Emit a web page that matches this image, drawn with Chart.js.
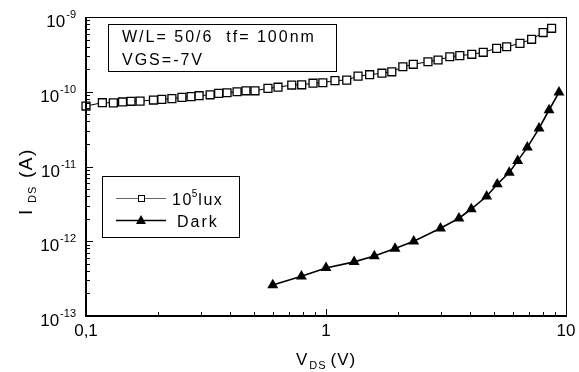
<!DOCTYPE html>
<html lang="en">
<head>
  <meta charset="UTF-8" />
  <title>IDS - VDS</title>
  <script src="https://cdn.jsdelivr.net/npm/chart.js"></script>
  <style>
    html, body { margin: 0; padding: 0; background: #fff; }
    canvas { display: block; }
  </style>
</head>
<body>
  <canvas id="ivChart" width="579" height="372"></canvas>

  <script>
    // 10^5 lux curve
    const luxVds = [0.100, 0.117, 0.130, 0.142, 0.154, 0.168, 0.191, 0.207, 0.228, 0.251, 0.274,
                    0.296, 0.329, 0.357, 0.387, 0.426, 0.464, 0.506, 0.573, 0.631, 0.720, 0.792,
                    0.883, 0.970, 1.09, 1.22, 1.36, 1.52, 1.71, 1.88, 2.09, 2.31, 2.66, 2.93,
                    3.28, 3.61, 4.05, 4.52, 5.14, 5.66, 6.43, 7.19, 8.03, 8.71];
    const luxIds = [6.44e-11, 7.14e-11, 7.1e-11, 7.3e-11, 7.45e-11, 7.5e-11, 7.75e-11, 7.9e-11, 8.1e-11, 8.4e-11, 8.6e-11,
                    8.85e-11, 9.1e-11, 9.5e-11, 9.7e-11, 1.0e-10, 1.03e-10, 1.03e-10, 1.11e-10, 1.15e-10, 1.23e-10, 1.24e-10,
                    1.30e-10, 1.32e-10, 1.41e-10, 1.43e-10, 1.62e-10, 1.69e-10, 1.77e-10, 1.85e-10, 2.16e-10, 2.33e-10, 2.52e-10, 2.66e-10,
                    2.94e-10, 3.04e-10, 3.17e-10, 3.37e-10, 3.81e-10, 4.0e-10, 4.44e-10, 5.03e-10, 6.2e-10, 7.06e-10];

    // dark curve
    const darkVds = [0.60, 0.79, 1.00, 1.31, 1.59, 1.94, 2.32, 3.00, 3.58, 4.03, 4.67, 5.17, 5.80, 6.29, 6.90, 7.72, 8.50, 9.35];
    const darkIds = [2.6e-13, 3.4e-13, 4.4e-13, 5.3e-13, 6.35e-13, 8.0e-13, 1.0e-12, 1.49e-12, 2.03e-12, 2.7e-12,
                     4.0e-12, 5.8e-12, 8.3e-12, 1.19e-11, 1.8e-11, 3.24e-11, 5.7e-11, 9.8e-11];

    const xTickValues = [0.1, 1, 10];
    const xTickLabels = ['0,1', '1', '10'];
    const yTickExponents = [-13, -12, -11, -10, -9];
    const infoLines = ['W/L= 50/6  tf= 100nm', 'VGS=-7V'];

    const FONT = '"Liberation Sans", Arial, sans-serif';

    function text(ctx, str, x, y, size, spacing) {
      ctx.font = size + 'px ' + FONT;
      ctx.letterSpacing = (spacing || 0) + 'px';
      ctx.fillText(str, x, y);
      return ctx.measureText(str).width;
    }

    function measure(ctx, str, size, spacing) {
      ctx.font = size + 'px ' + FONT;
      ctx.letterSpacing = (spacing || 0) + 'px';
      return ctx.measureText(str).width;
    }

    // draws "10" with a raised exponent, right aligned on xRight
    function pow10(ctx, exp, xRight, baseline) {
      const wb = measure(ctx, '10', 17);
      const we = measure(ctx, String(exp), 11);
      const x0 = xRight - (wb + 1 + we);
      text(ctx, '10', x0, baseline, 17);
      text(ctx, String(exp), x0 + wb + 1, baseline - 8.5, 11);
    }

    const framePlugin = {
      id: 'frame',
      afterDraw(chart) {
        const { ctx, chartArea: a, scales: { x, y } } = chart;
        ctx.save();
        ctx.strokeStyle = '#000';
        ctx.fillStyle = '#000';
        ctx.textBaseline = 'alphabetic';
        ctx.textAlign = 'left';

        // plot box
        ctx.lineWidth = 1;
        ctx.strokeRect(a.left + 0.5, a.top + 0.5, a.right - a.left, a.bottom - a.top);
        ctx.lineWidth = 2;
        ctx.beginPath();
        ctx.moveTo(a.left, a.top);
        ctx.lineTo(a.left, a.bottom);
        ctx.lineTo(a.right + 1, a.bottom);
        ctx.stroke();

        // inward ticks
        ctx.lineWidth = 1;
        ctx.beginPath();
        for (let e = -1; e <= 1; e++) {
          for (let m = 1; m <= 9; m++) {
            const v = m * Math.pow(10, e);
            if (v > 10.0001) break;
            const px = Math.round(x.getPixelForValue(v)) + 0.5;
            const len = m === 1 ? 7 : 4;
            ctx.moveTo(px, a.bottom);
            ctx.lineTo(px, a.bottom - len);
          }
        }
        for (let e = -13; e <= -9; e++) {
          for (let m = 1; m <= 9; m++) {
            const v = m * Math.pow(10, e);
            if (e === -9 && m > 1) break;
            const py = Math.round(y.getPixelForValue(v)) + 0.5;
            const len = m === 1 ? 7 : 4;
            ctx.moveTo(a.left, py);
            ctx.lineTo(a.left + len, py);
          }
        }
        ctx.stroke();

        // tick labels
        yTickExponents.forEach(e => {
          pow10(ctx, e, 76, Math.round(y.getPixelForValue(Math.pow(10, e))) + 9.5);
        });
        ctx.textAlign = 'center';
        xTickValues.forEach((v, i) => {
          text(ctx, xTickLabels[i], x.getPixelForValue(v), a.bottom + 20, 17);
        });
        ctx.textAlign = 'left';

        // x title
        const cx = (a.left + a.right) / 2;
        let tx = cx - 30;
        tx += text(ctx, 'V', tx, 365, 17) + 2;
        tx += text(ctx, 'DS', tx, 369, 11, 1) + 4;
        text(ctx, '(V)', tx, 365, 17, 1);

        // y title (rotated)
        ctx.save();
        ctx.translate(32, 216);
        ctx.rotate(-Math.PI / 2);
        text(ctx, 'I', 1, 0, 19);
        text(ctx, 'DS', 13, 4, 11, 1);
        text(ctx, '(A)', 38, 0, 19, 1.5);
        ctx.restore();

        // info box
        ctx.lineWidth = 1;
        ctx.strokeRect(108.5, 24.5, 228, 47);
        text(ctx, infoLines[0], 122, 42, 16, 2);
        text(ctx, infoLines[1], 122, 65, 16, 2);

        // legend box
        ctx.fillStyle = '#fff';
        ctx.fillRect(102, 176, 137, 61);
        ctx.strokeRect(102.5, 176.5, 137, 61);
        ctx.fillStyle = '#000';

        // row 1: open square
        ctx.strokeStyle = '#666';
        ctx.beginPath();
        ctx.moveTo(116, 198.5);
        ctx.lineTo(166, 198.5);
        ctx.stroke();
        ctx.strokeStyle = '#000';
        ctx.fillStyle = '#fff';
        ctx.fillRect(138, 195.5, 6, 6);
        ctx.strokeRect(138.5, 195.5, 6, 6);
        ctx.fillStyle = '#000';
        let lx = 172;
        lx += text(ctx, '10', lx, 205, 16, 1.5);
        lx += text(ctx, '5', lx - 1, 197, 10);
        text(ctx, 'lux', lx, 205, 16, 1.5);

        // row 2: filled triangle
        ctx.lineWidth = 1.5;
        ctx.beginPath();
        ctx.moveTo(116, 220.5);
        ctx.lineTo(166, 220.5);
        ctx.stroke();
        ctx.beginPath();
        ctx.moveTo(141, 215);
        ctx.lineTo(146, 224);
        ctx.lineTo(136, 224);
        ctx.closePath();
        ctx.fill();
        text(ctx, 'Dark', 177, 227, 16, 2);

        ctx.restore();
      }
    };

    new Chart(document.getElementById('ivChart'), {
      type: 'line',
      data: {
        datasets: [
          {
            label: '10^5lux',
            data: luxVds.map((v, i) => ({ x: v, y: luxIds[i] })),
            borderColor: '#000',
            borderWidth: 1,
            pointStyle: 'rect',
            pointRadius: 5.6,
            pointBackgroundColor: '#fff',
            pointBorderColor: '#000',
            pointBorderWidth: 1.3,
            clip: false
          },
          {
            label: 'Dark',
            data: darkVds.map((v, i) => ({ x: v, y: darkIds[i] })),
            borderColor: '#000',
            borderWidth: 1.6,
            pointStyle: 'triangle',
            pointRadius: 6.3,
            pointBackgroundColor: '#000',
            pointBorderColor: '#000',
            pointBorderWidth: 0,
            clip: false
          }
        ]
      },
      options: {
        responsive: false,
        animation: false,
        devicePixelRatio: 1,
        layout: { padding: { left: 86, right: 13, top: 17, bottom: 56 } },
        elements: { line: { tension: 0 } },
        plugins: { legend: { display: false }, tooltip: { enabled: false } },
        scales: {
          x: { type: 'logarithmic', min: 0.1, max: 10, display: false },
          y: { type: 'logarithmic', min: 1e-13, max: 1e-9, display: false }
        }
      },
      plugins: [framePlugin]
    });
  </script>
</body>
</html>
